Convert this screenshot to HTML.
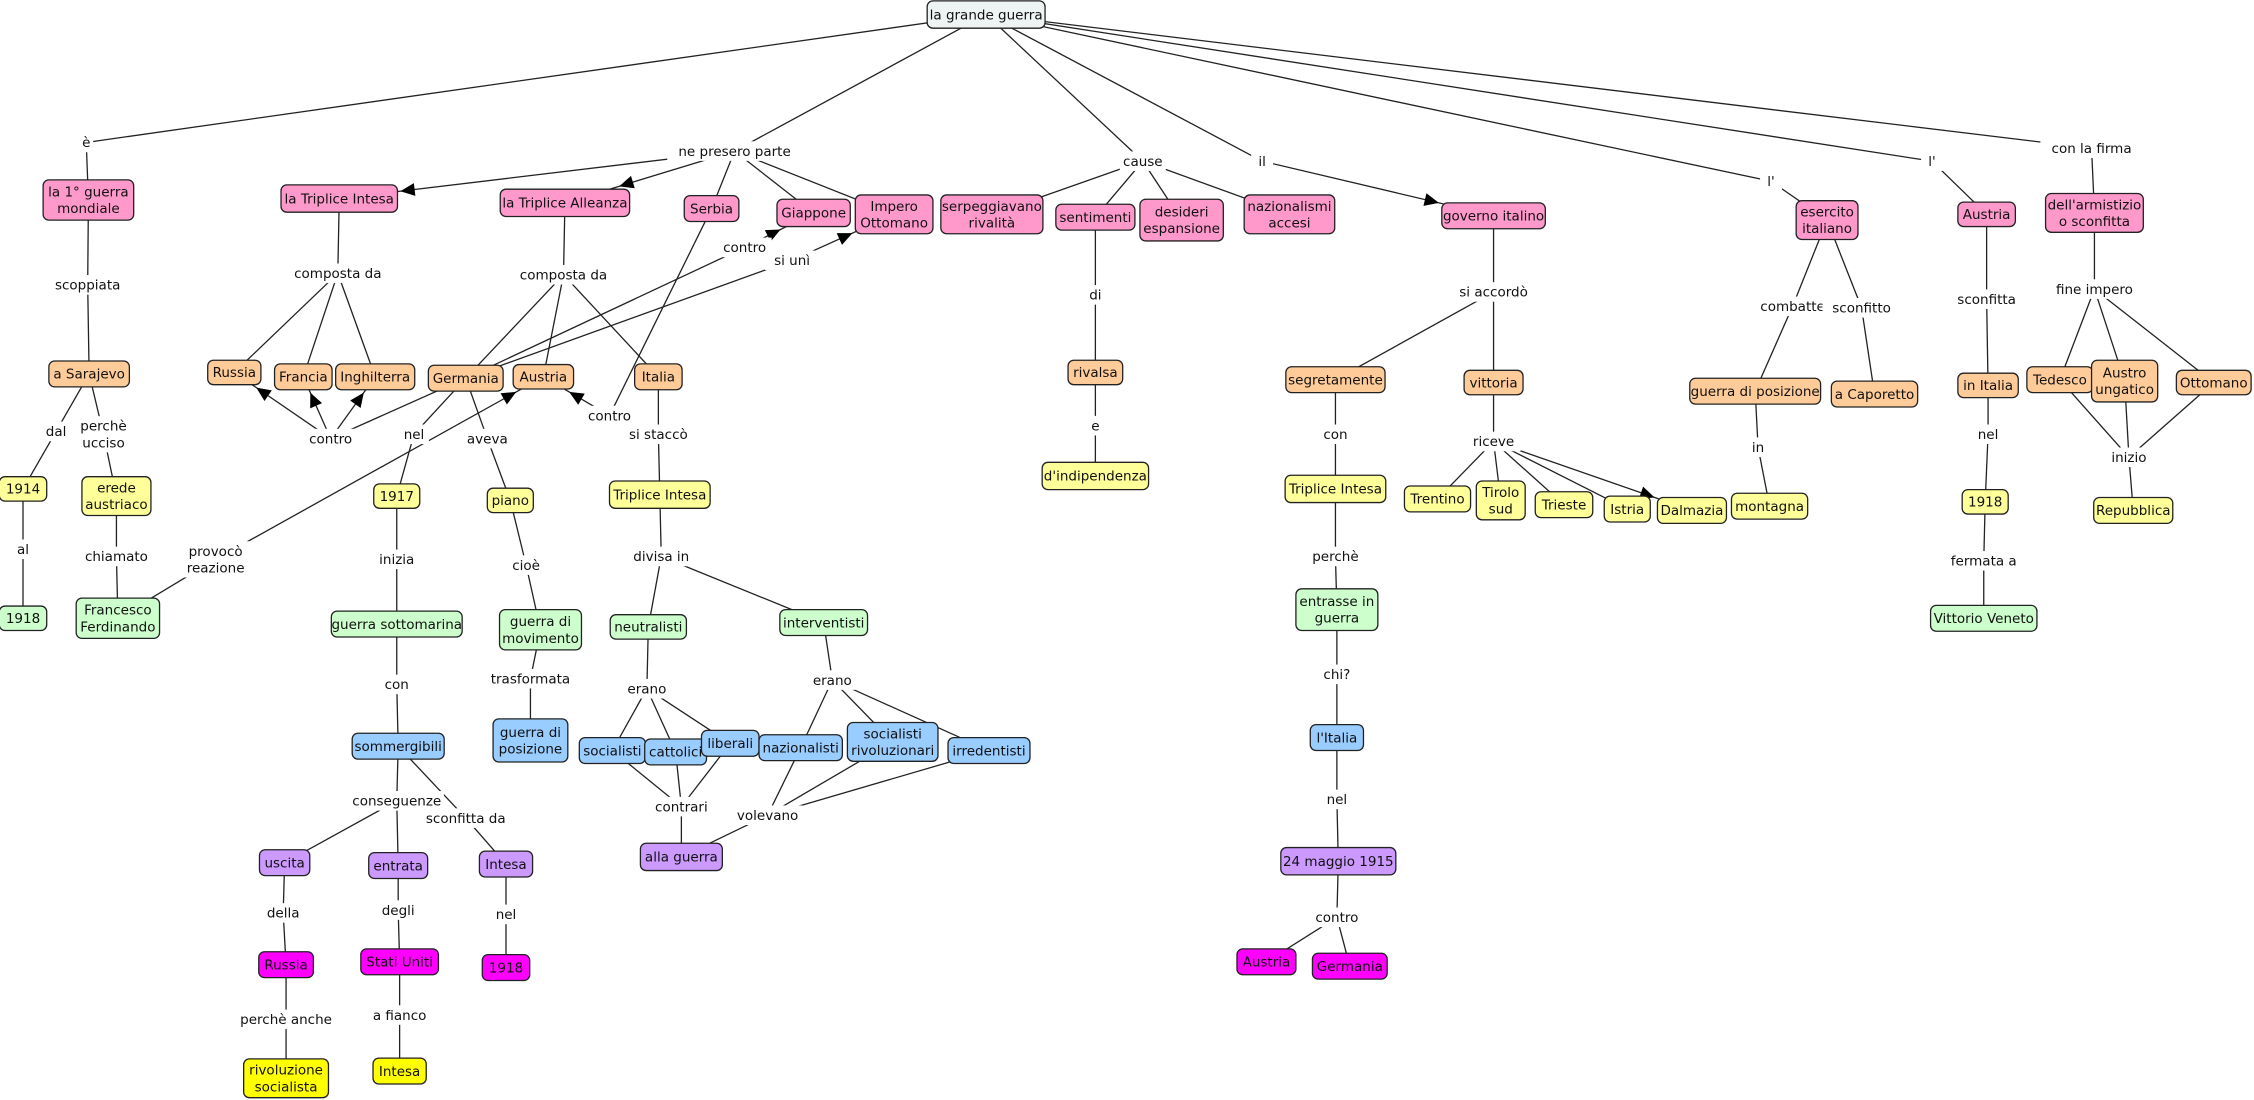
<!DOCTYPE html>
<html><head><meta charset="utf-8"><style>
html,body{margin:0;padding:0;background:#fff;}
svg{display:block;}
text{font-family:"DejaVu Sans","Liberation Sans",sans-serif;font-size:9.4px;fill:#111;}
</style></head><body>
<svg id="s" width="2254" height="1100" viewBox="0 0 1568 765" xmlns="http://www.w3.org/2000/svg">
<g id="L"></g><g id="A"></g><g id="N"></g>
</svg>
<script>
var C={p:'#ff99cc',o:'#ffcc99',y:'#ffff99',g:'#ccffcc',b:'#99ccff',u:'#cc99ff',m:'#ff00ff',Y:'#ffff00',r:'#eef3f3'};
var N={
root:[686,10,82,19,'r','la grande guerra'],
n1:[61.5,139,63,28,'p','la 1° guerra\nmondiale'],
TI:[236,138,81,19,'p','la Triplice Intesa'],
TA:[393,141,90,19,'p','la Triplice Alleanza'],
Ser:[495,145,38,18,'p','Serbia'],
Gia:[566,148,51,19,'p','Giappone'],
Imp:[622,149,54,27,'p','Impero\nOttomano'],
serp:[690,149,71,27,'p','serpeggiavano\nrivalità'],
sent:[762,151,55,18,'p','sentimenti'],
des:[822,153,58,29,'p','desideri\nespansione'],
naz:[897,149,63,27,'p','nazionalismi\naccesi'],
gov:[1039,150,72,18,'p','governo italino'],
ese:[1271,153,43,27,'p','esercito\nitaliano'],
AusT:[1382,149,40,17,'p','Austria'],
arm:[1457,148,68,27,'p',"dell'armistizio\no sconfitta"],
Sar:[62,260,56,18,'o','a Sarajevo'],
Rus:[163,259,37,17,'o','Russia'],
Fra:[211,262,40,18,'o','Francia'],
Ing:[261,262,55,18,'o','Inghilterra'],
Ger:[324,263,52,18,'o','Germania'],
Aus:[378,262,42,17,'o','Austria'],
Ita:[458,262,33,18,'o','Italia'],
riv:[762,259,38,17,'o','rivalsa'],
seg:[929,264,69,18,'o','segretamente'],
vit:[1039,266,41,17,'o','vittoria'],
gdp:[1221,272,91,18,'o','guerra di posizione'],
cap:[1304,274,60,18,'o','a Caporetto'],
inI:[1383,268,42,17,'o','in Italia'],
Ted:[1433,264,46,18,'o','Tedesco'],
Aun:[1478,265,46,29,'o','Austro\nungatico'],
Ott:[1540,266,52,17,'o','Ottomano'],
y14:[16,340,33,17,'y','1914'],
ere:[81,345,48,27,'y','erede\naustriaco'],
y17:[276,345,32,17,'y','1917'],
pia:[355,348,32,17,'y','piano'],
TrI:[459,344,70,19,'y','Triplice Intesa'],
ind:[762,331,74,19,'y',"d'indipendenza"],
TrI2:[929,340,70,19,'y','Triplice Intesa'],
Tre:[1000,347,46,18,'y','Trentino'],
Tir:[1044,348,34,27,'y','Tirolo\nsud'],
Tri:[1088,351,40,18,'y','Trieste'],
Ist:[1132,354,32,18,'y','Istria'],
Dal:[1177,355,48,18,'y','Dalmazia'],
mon:[1231,352,53,18,'y','montagna'],
y18R:[1381,349,32,17,'y','1918'],
Rep:[1484,355,55,18,'y','Repubblica'],
y18L:[16,430,33,17,'g','1918'],
Fer:[82,430,58,28,'g','Francesco\nFerdinando'],
sot:[276,434,91,18,'g','guerra sottomarina'],
mov:[376,438,57,28,'g','guerra di\nmovimento'],
neu:[451,436,53,17,'g','neutralisti'],
int:[573,433,61,18,'g','interventisti'],
ent:[930,424,57,29,'g','entrasse in\nguerra'],
VV:[1380,430,74,18,'g','Vittorio Veneto'],
som:[277,519,64,18,'b','sommergibili'],
pos:[369,515,52,30,'b','guerra di\nposizione'],
soc:[426,522,46,18,'b','socialisti'],
cat:[470,523,43,18,'b','cattolici'],
lib:[508,517,40,18,'b','liberali'],
nzl:[557,520,58,18,'b','nazionalisti'],
sr:[621,516,63,27,'b','socialisti\nrivoluzionari'],
irr:[688,522,57,18,'b','irredentisti'],
lIt:[930,513,37,18,'b',"l'Italia"],
alg:[474,596,57,19,'u','alla guerra'],
usc:[198,600,35,18,'u','uscita'],
entr:[277,602,41,18,'u','entrata'],
Int:[352,601,37,18,'u','Intesa'],
may:[931,599,80,19,'u','24 maggio 1915'],
RusM:[199,671,38,18,'m','Russia'],
SU:[278,669,54,18,'m','Stati Uniti'],
y18M:[352,673,33,18,'m','1918'],
AusM:[881,669,41,18,'m','Austria'],
GerM:[939,672,52,18,'m','Germania'],
rs:[199,750,59,27,'Y','rivoluzione\nsocialista'],
IntY:[278,745,37,18,'Y','Intesa']
};
var Lb={
e1:[60,99,'è'],npp:[511,105,'ne presero parte'],cau:[795,112,'cause'],il:[878,112,'il'],
l1:[1232,126,"l'"],l2:[1344,112,"l'"],clf:[1455,103,'con la firma'],scop:[61,198,'scoppiata'],
cd1:[235,190,'composta da'],cd2:[392,191,'composta da'],co2:[518,172,'contro'],su:[551,181,'si unì'],
di:[762,205,'di'],e2:[762,296,'e'],sa:[1039,203,'si accordò'],com:[1247,213,'combatte'],
sco:[1295,214,'sconfitto'],sca:[1382,208,'sconfitta'],fi:[1457,201,'fine impero'],
dal:[39,300,'dal'],pu:[72,302,'perchè\nucciso'],co1:[230,305,'contro'],nel1:[288,302,'nel'],
av:[339,305,'aveva'],co3:[424,289,'contro'],st:[458,302,'si staccò'],pr:[150,389,'provocò\nreazione'],
chi:[81,387,'chiamato'],al:[16,382,'al'],con2:[929,302,'con'],ric:[1039,307,'riceve'],in2:[1223,311,'in'],
nel2:[1383,302,'nel'],ini:[1481,318,'inizio'],inz:[276,389,'inizia'],cio:[366,393,'cioè'],
div:[460,387,'divisa in'],per:[929,387,'perchè'],fer:[1380,390,'fermata a'],ch:[930,469,'chi?'],
tr:[369,472,'trasformata'],er1:[450,479,'erano'],er2:[579,473,'erano'],con1:[276,476,'con'],
ctr:[474,561,'contrari'],vol:[534,567,'volevano'],nel3:[930,556,'nel'],cons:[276,557,'conseguenze'],
sd:[324,569,'sconfitta da'],co4:[930,638,'contro'],del:[197,635,'della'],deg:[277,633,'degli'],
nel4:[352,636,'nel'],pa:[199,709,'perchè anche'],af:[278,706,'a fianco']
};
// edges: [from,to,arrow]
var E=[];
function ch(a,l,bs,arrows){E.push([a,l]);bs.forEach(function(b,i){E.push([l,b,arrows&&arrows[i]]);});}
ch('root','e1',['n1']);
ch('root','npp',['TI','TA','Ser','Gia','Imp'],[1,1,0,0,0]);
ch('root','cau',['serp','sent','des','naz']);
ch('root','il',['gov'],[1]);
ch('root','l1',['ese']);ch('root','l2',['AusT']);ch('root','clf',['arm']);
ch('n1','scop',['Sar']);ch('Sar','dal',['y14']);ch('y14','al',['y18L']);
ch('Sar','pu',['ere']);ch('ere','chi',['Fer']);ch('Fer','pr',['Aus'],[1]);
ch('TI','cd1',['Rus','Fra','Ing']);ch('TA','cd2',['Ger','Aus','Ita']);
ch('Ger','co1',['Rus','Fra','Ing'],[1,1,1]);ch('Ger','co2',['Gia'],[1]);ch('Ger','su',['Imp'],[1]);
ch('Ser','co3',['Aus'],[1]);
ch('Ger','nel1',['y17']);ch('y17','inz',['sot']);ch('sot','con1',['som']);
ch('som','cons',['usc','entr']);ch('som','sd',['Int']);ch('Int','nel4',['y18M']);
ch('usc','del',['RusM']);ch('RusM','pa',['rs']);ch('entr','deg',['SU']);ch('SU','af',['IntY']);
ch('Ger','av',['pia']);ch('pia','cio',['mov']);ch('mov','tr',['pos']);
ch('Ita','st',['TrI']);ch('TrI','div',['neu','int']);
ch('neu','er1',['soc','cat','lib']);ch('int','er2',['nzl','sr','irr']);
['soc','cat','lib'].forEach(function(a){E.push([a,'ctr']);});E.push(['ctr','alg']);
['nzl','sr','irr'].forEach(function(a){E.push([a,'vol']);});E.push(['vol','alg']);
ch('sent','di',['riv']);ch('riv','e2',['ind']);
ch('gov','sa',['seg','vit']);ch('seg','con2',['TrI2']);ch('TrI2','per',['ent']);ch('ent','ch',['lIt']);
ch('lIt','nel3',['may']);ch('may','co4',['AusM','GerM']);
ch('vit','ric',['Tre','Tir','Tri','Ist','Dal'],[0,0,0,0,1]);
ch('ese','com',['gdp']);ch('gdp','in2',['mon']);ch('ese','sco',['cap']);
ch('AusT','sca',['inI']);ch('inI','nel2',['y18R']);ch('y18R','fer',['VV']);
ch('arm','fi',['Ted','Aun','Ott']);['Ted','Aun','Ott'].forEach(function(a){E.push([a,'ini']);});E.push(['ini','Rep']);

var NS='http://www.w3.org/2000/svg';
function el(t,a,p){var e=document.createElementNS(NS,t);for(var k in a)e.setAttribute(k,a[k]);p.appendChild(e);return e;}
function tw(s){return s.length*5.6;}
function box(id){if(N[id]){var n=N[id];return [n[0],n[1],n[2]/2+2,n[3]/2+2];}
 var l=Lb[id];var ls=l[2].split('\n');var w=Math.max.apply(null,ls.map(tw));return [l[0],l[1],w/2+2,ls.length*5.8+1];}
function pt(id){var b=box(id);return [b[0],b[1]];}
var gL=document.getElementById('L'),gA=document.getElementById('A'),gN=document.getElementById('N');
E.forEach(function(e){var a=pt(e[0]),b=pt(e[1]);
 el('line',{x1:a[0],y1:a[1],x2:b[0],y2:b[1],stroke:'#222','stroke-width':0.9},gL);
 if(e[2]){var bx=box(e[1]);var dx=a[0]-b[0],dy=a[1]-b[1];
  var t=Math.min(Math.abs(dx)>0?bx[2]/Math.abs(dx):1e9,Math.abs(dy)>0?bx[3]/Math.abs(dy):1e9);
  var px=b[0]+dx*t,py=b[1]+dy*t;var L=Math.sqrt(dx*dx+dy*dy),ux=dx/L,uy=dy/L;
  var bxp=px+ux*10,byp=py+uy*10;
  el('polygon',{points:px+','+py+' '+(bxp-uy*4.5)+','+(byp+ux*4.5)+' '+(bxp+uy*4.5)+','+(byp-ux*4.5),fill:'#000'},gA);}
});
function txt(x,y,s,p){var ls=s.split('\n');var y0=y-(ls.length-1)*5.8+3.3;
 ls.forEach(function(l,i){var t=el('text',{x:x,y:y0+i*11.6,'text-anchor':'middle'},p);t.textContent=l;});}
for(var k in Lb){var l=Lb[k];var b=box(k);
 el('rect',{x:b[0]-b[2],y:b[1]-b[3],width:b[2]*2,height:b[3]*2,fill:'#fff'},gN);txt(l[0],l[1],l[2],gN);}
for(var k in N){var n=N[k];
 el('rect',{x:n[0]-n[2]/2,y:n[1]-n[3]/2,width:n[2],height:n[3],rx:4,ry:4,fill:C[n[4]],stroke:'#222','stroke-width':0.9},gN);
 txt(n[0],n[1],n[5],gN);}
</script>
</body></html>
